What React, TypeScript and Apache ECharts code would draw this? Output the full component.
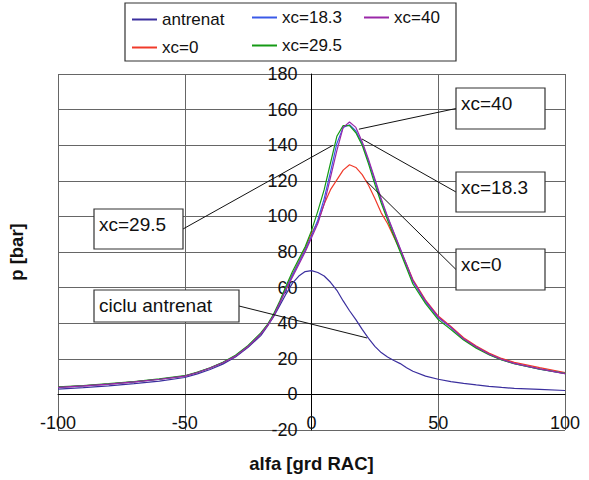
import React, { useEffect, useRef } from "react";
import * as echarts from "echarts";

// crank angle [grd RAC]
const alfa = [-100, -90, -80, -70, -60, -50, -45, -40, -35, -30, -25, -20, -17.5, -15, -12.5, -10, -7.5, -5, -2.5, 0,
  2.5, 5, 7.5, 10, 12.5, 15, 17.5, 20, 22.5, 25, 27.5, 30, 32.5, 35, 37.5, 40,
  45, 50, 55, 60, 65, 70, 75, 80, 90, 100];

const antrenat = [3, 3.8, 4.8, 6, 7.5, 9.5, 11.5, 14, 17, 21, 26.5, 33, 38, 43.5, 50, 56.5, 62.5, 66.5, 69, 69.5,
  68.5, 66.5, 63, 58.5, 52.5, 47, 42, 36.5, 31.5, 27, 23.5, 21, 19, 17.3, 15, 13,
  10.3, 8.5, 7.2, 6.2, 5.3, 4.5, 3.9, 3.4, 2.8, 2.2];

const xc0 = [4, 4.8, 5.8, 7, 8.5, 10.3, 12.3, 14.8, 17.8, 21.5, 27, 34, 38.5, 44, 51.5, 60, 67.5, 74.5, 82, 90.5,
  97, 107, 115, 120.5, 126, 129, 127.5, 123.5, 117.5, 110, 102, 96, 88.5, 81, 73, 64.5,
  53, 44, 38.2, 31.8, 27.2, 23.2, 20.2, 18, 15, 12.3];

const xc18 = [4, 4.8, 5.8, 7, 8.5, 10.3, 12.3, 14.8, 17.8, 21.5, 27, 34, 38.5, 44, 51.5, 59.5, 67, 74, 81, 89,
  98, 110, 125, 141, 150, 151.5, 148, 141, 131, 120, 109, 99.5, 90.5, 81.5, 72.5, 63.5,
  52, 43, 37.5, 31, 26.5, 22.5, 19.5, 17.3, 14.2, 11.7];

const xc29 = [4.2, 5, 6, 7.2, 8.7, 10.5, 12.5, 15, 18, 22, 27.5, 34.5, 39, 45, 52.5, 61, 69, 76, 83, 92,
  103, 115, 130, 145, 151, 151, 147, 140, 129.5, 118, 107.5, 98, 89, 80, 71, 62,
  51, 42, 36.5, 30.5, 26, 22.3, 19.4, 17.2, 14.2, 11.8];

const xc40 = [4, 4.8, 5.8, 7, 8.5, 10.3, 12.3, 14.8, 17.8, 21.5, 27, 34, 38.5, 44, 51.5, 59, 66, 73, 80, 88,
  96, 107, 122, 137, 150, 153, 150, 142, 132, 121, 110, 100, 91, 82, 73, 64,
  52.5, 43.5, 37.8, 31.2, 26.7, 22.7, 19.7, 17.4, 14.3, 11.7];

const seriesNames = ["antrenat", "xc=0", "xc=18.3", "xc=29.5", "xc=40"];
const seriesValues = [antrenat, xc0, xc18, xc29, xc40];
const seriesColors = ["#3b2f9e", "#f03a2a", "#3a5ae8", "#159a15", "#9a28a8"];

// annotation callouts: label and the data point they point to
const annotLabels = ["xc=40", "xc=18.3", "xc=0", "xc=29.5", "ciclu antrenat"];
const annotTargets = [[18.7, 149], [19.9, 143.5], [21.5, 120], [8.5, 140], [21.9, 31.7]];

const FONT = "'Liberation Sans', Arial, Helvetica, sans-serif";

const X_MIN = -100, X_MAX = 100, Y_MIN = -20, Y_MAX = 180;
const GRID = { left: 58, right: 24, top: 74, bottom: 50 };
const W = 589, H = 480;

export default function App() {
  const ref = useRef<HTMLDivElement>(null);

  useEffect(() => {
    const chart = echarts.init(ref.current!, null, { renderer: "svg" });
    const gw = W - GRID.left - GRID.right;
    const gh = H - GRID.top - GRID.bottom;
    // place axes so they cross at (0, 0), as in the reference
    const yOffset = -((0 - X_MIN) / (X_MAX - X_MIN)) * gw;
    const xOffset = -((0 - Y_MIN) / (Y_MAX - Y_MIN)) * gh;

    const legendCommon = {
      orient: "vertical",
      icon: "rect",
      itemWidth: 25,
      itemHeight: 2,
      itemGap: 11,
      padding: 0,
      selectedMode: false,
      textStyle: { fontSize: 17, lineHeight: 17, color: "#111", fontFamily: FONT },
    };
    chart.setOption({
      animation: false,
      backgroundColor: "#fff",
      textStyle: { fontFamily: FONT },
      grid: { ...GRID, containLabel: false, outerBoundsMode: "none" },
      legend: [
        { ...legendCommon, data: ["antrenat", "xc=0"], left: 132, top: 11 },
        { ...legendCommon, data: ["xc=18.3", "xc=29.5"], left: 252, top: 9 },
        { ...legendCommon, data: ["xc=40"], left: 364, top: 9 },
      ],
      xAxis: {
        type: "value",
        min: X_MIN,
        max: X_MAX,
        interval: 50,
        position: "bottom",
        offset: xOffset,
        name: "alfa [grd RAC]",
        nameLocation: "middle",
        nameGap: 60,
        nameTextStyle: { fontSize: 18.5, fontWeight: "bold", color: "#111", fontFamily: FONT },
        axisLine: { show: true, onZero: false, lineStyle: { color: "#000", width: 1 } },
        axisTick: { show: false },
        axisLabel: { fontSize: 18, color: "#111", margin: 20, fontFamily: FONT },
        splitLine: { show: true, lineStyle: { color: "#666", width: 1 } },
      },
      yAxis: {
        type: "value",
        min: Y_MIN,
        max: Y_MAX,
        interval: 20,
        position: "left",
        offset: yOffset,
        name: "p [bar]",
        nameLocation: "middle",
        nameGap: 286,
        nameTextStyle: { fontSize: 18.5, fontWeight: "bold", color: "#111", fontFamily: FONT },
        axisLine: { show: true, onZero: false, lineStyle: { color: "#000", width: 1 } },
        axisTick: { show: false },
        axisLabel: { fontSize: 18, color: "#111", margin: 14, fontFamily: FONT },
        splitLine: { show: true, lineStyle: { color: "#666", width: 1 } },
      },
      series: seriesNames.map((name, i) => ({
        name,
        type: "line",
        data: alfa.map((x, j) => [x, seriesValues[i][j]]),
        showSymbol: false,
        symbol: "none",
        color: seriesColors[i],
        itemStyle: { color: seriesColors[i] },
        lineStyle: { color: seriesColors[i], width: 1.2 },
        z: 2 + i,
      })),
    });

    // callout boxes (layout in pixels)
    const boxes = [
      { x: 456, y: 88, w: 89, h: 41, side: "left" },
      { x: 456, y: 172, w: 89, h: 40, side: "left" },
      { x: 456, y: 249, w: 89, h: 41, side: "left" },
      { x: 94, y: 209, w: 89, h: 40, side: "right" },
      { x: 94, y: 290, w: 145, h: 32, side: "right" },
    ];
    const graphics: any[] = [
      {
        type: "rect",
        shape: { x: 125, y: 3, width: 331, height: 58 },
        style: { fill: "none", stroke: "#333", lineWidth: 1.2 },
        z: 1,
      },
    ];
    annotLabels.forEach((label, i) => {
      const b = boxes[i];
      const p = chart.convertToPixel({ gridIndex: 0 }, annotTargets[i]) as number[];
      const sx = b.side === "left" ? b.x : b.x + b.w;
      const sy = b.y + b.h / 2;
      graphics.push({
        type: "line",
        shape: { x1: sx, y1: sy, x2: p[0], y2: p[1] },
        style: { stroke: "#111", lineWidth: 1 },
        z: 20,
      });
      graphics.push({
        type: "rect",
        shape: { x: b.x, y: b.y, width: b.w, height: b.h },
        style: { fill: "#fff", stroke: "#333", lineWidth: 1.2 },
        z: 21,
      });
      graphics.push({
        type: "text",
        x: b.x + 5,
        y: b.y + 15,
        style: {
          text: label,
          fontSize: 19,
          fontFamily: FONT,
          fill: "#111",
          verticalAlign: "middle",
          align: "left",
        },
        z: 22,
      });
    });
    chart.setOption({ graphic: graphics });

    return () => chart.dispose();
  }, []);

  return (
    <div
      ref={ref}
      style={{ position: "fixed", left: 0, top: 0, width: W, height: H }}
    />
  );
}
